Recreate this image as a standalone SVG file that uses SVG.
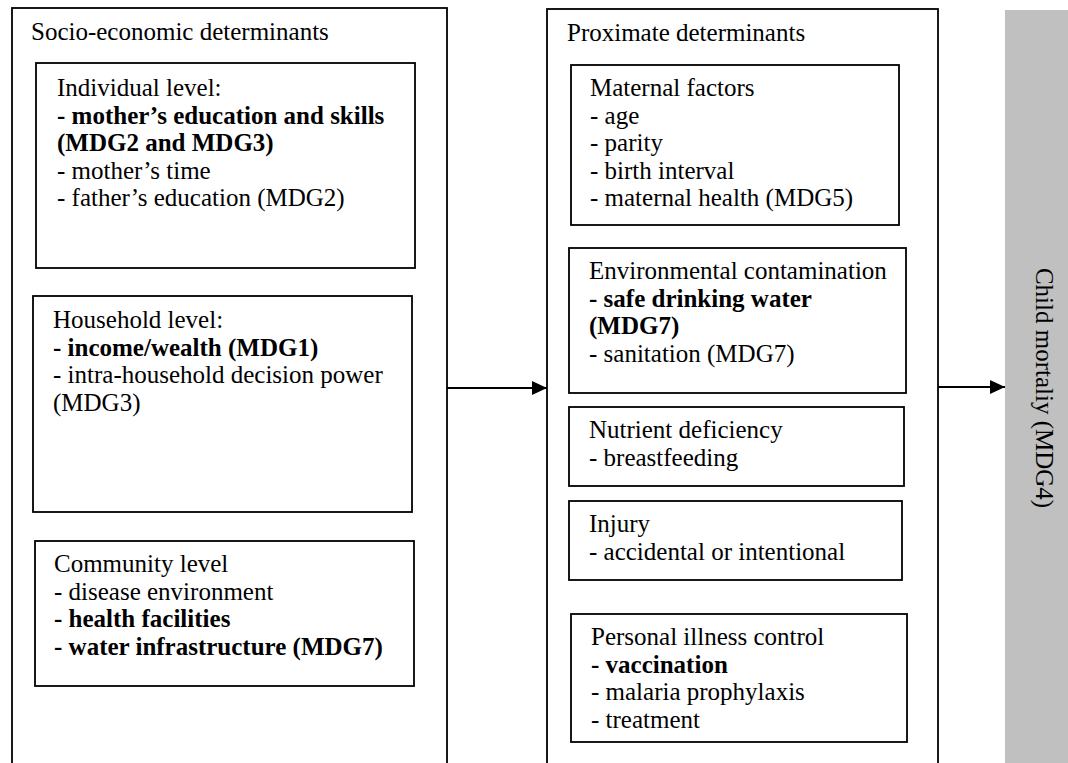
<svg xmlns="http://www.w3.org/2000/svg" width="1068" height="763" viewBox="0 0 1068 763">
<defs>
<style>
.box{fill:#fff;stroke:#000;stroke-width:1.8}
.t{font-family:"Liberation Serif","Times New Roman",serif;font-size:25px;fill:#000}
.b{font-weight:bold}
.ln{stroke:#000;stroke-width:1.8;fill:none}
</style>
<marker id="ah" markerWidth="16" markerHeight="14" refX="15" refY="7" orient="auto" markerUnits="userSpaceOnUse">
<path d="M0,0 L15,7 L0,14 Z" fill="#000"/>
</marker>
</defs>
<rect width="1068" height="763" fill="#fff"/>

<g id="socio">
<rect class="box" x="12" y="8" width="435" height="770"/>
<text class="t" x="31" y="40">Socio-economic determinants</text>
</g>

<g id="individual">
<rect class="box" x="36" y="63" width="379" height="205"/>
<text class="t" x="57" y="96">Individual level:</text>
<text class="t b" x="57" y="123.5">- mother’s education and skills</text>
<text class="t b" x="57" y="151">(MDG2 and MDG3)</text>
<text class="t" x="57" y="178.5">- mother’s time</text>
<text class="t" x="57" y="206">- father’s education (MDG2)</text>
</g>

<g id="household">
<rect class="box" x="33" y="296" width="379" height="216"/>
<text class="t" x="53" y="328">Household level:</text>
<text class="t b" x="53" y="355.5">- income/wealth (MDG1)</text>
<text class="t" x="53" y="383">- intra-household decision power</text>
<text class="t" x="53" y="410.5">(MDG3)</text>
</g>

<g id="community">
<rect class="box" x="35" y="541" width="379" height="145"/>
<text class="t" x="54" y="572">Community level</text>
<text class="t" x="54" y="599.5">- disease environment</text>
<text class="t b" x="54" y="627">- health facilities</text>
<text class="t b" x="54" y="654.5">- water infrastructure (MDG7)</text>
</g>

<g id="proximate">
<rect class="box" x="547" y="9" width="391" height="770"/>
<text class="t" x="567" y="41">Proximate determinants</text>
</g>

<g id="maternal">
<rect class="box" x="571" y="65" width="328" height="160"/>
<text class="t" x="590" y="96">Maternal factors</text>
<text class="t" x="590" y="123.5">- age</text>
<text class="t" x="590" y="151">- parity</text>
<text class="t" x="590" y="178.5">- birth interval</text>
<text class="t" x="590" y="206">- maternal health (MDG5)</text>
</g>

<g id="environmental">
<rect class="box" x="569" y="248" width="337" height="145"/>
<text class="t" x="589" y="279">Environmental contamination</text>
<text class="t b" x="589" y="306.5">- safe drinking water</text>
<text class="t b" x="589" y="334">(MDG7)</text>
<text class="t" x="589" y="361.5">- sanitation (MDG7)</text>
</g>

<g id="nutrient">
<rect class="box" x="569" y="407" width="335" height="79"/>
<text class="t" x="589" y="438">Nutrient deficiency</text>
<text class="t" x="589" y="465.5">- breastfeeding</text>
</g>

<g id="injury">
<rect class="box" x="569" y="501" width="333" height="79"/>
<text class="t" x="589" y="532">Injury</text>
<text class="t" x="589" y="559.5">- accidental or intentional</text>
</g>

<g id="personal">
<rect class="box" x="571" y="614" width="336" height="128"/>
<text class="t" x="591" y="645">Personal illness control</text>
<text class="t b" x="591" y="672.5">- vaccination</text>
<text class="t" x="591" y="700">- malaria prophylaxis</text>
<text class="t" x="591" y="727.5">- treatment</text>
</g>

<g id="child-mortality">
<rect x="1005" y="10" width="70" height="770" fill="#c0c0c0"/>
<text class="t" text-anchor="middle" transform="translate(1036,388) rotate(90)">Child mortaliy (MDG4)</text>
</g>

<g id="connectors">
<line class="ln" x1="447" y1="388" x2="547" y2="388" marker-end="url(#ah)"/>
<line class="ln" x1="938" y1="387" x2="1005" y2="387" marker-end="url(#ah)"/>
</g>
</svg>
